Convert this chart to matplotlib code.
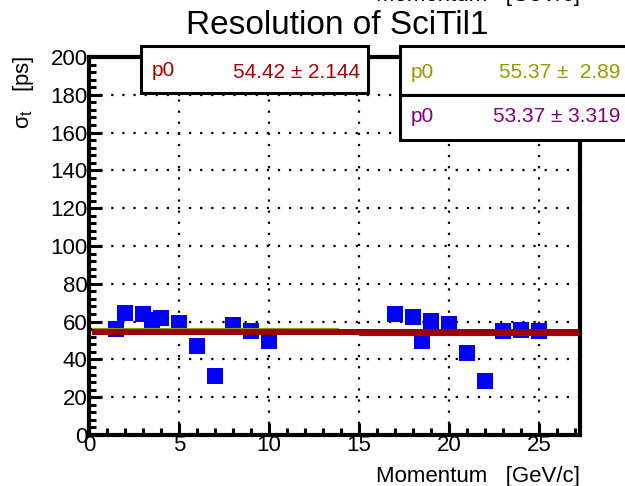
import matplotlib
matplotlib.use('Agg')
import matplotlib.pyplot as plt
from matplotlib.patches import Rectangle
from matplotlib.ticker import MultipleLocator

plt.rcParams['font.family'] = ['Liberation Sans', 'DejaVu Sans']
plt.rcParams['mathtext.fontset'] = 'custom'
plt.rcParams['mathtext.rm'] = 'Liberation Sans'
plt.rcParams['mathtext.it'] = 'Liberation Sans'

# measured time resolution per momentum bin
momentum = [1.5, 2, 3, 3.5, 4, 5, 6, 7, 8, 9, 10,
            17, 18, 18.5, 19, 20, 21, 22, 23, 24, 25]
sigma_t = [55.9, 64.4, 64.0, 61.0, 62.0, 59.4, 47.3, 31.2, 58.2, 55.2, 49.9,
           64.0, 62.3, 49.7, 60.5, 58.6, 43.2, 28.6, 55.0, 55.5, 55.0]

# constant fits: full range, low range, high range
fit_all = 54.42
fit_all_err = 2.144
fit_low = 55.37
fit_low_err = 2.89
fit_high = 53.37
fit_high_err = 3.319
low_range = [0.15, 13.9]
high_range = [15.0, 27.2]
all_range = [0.15, 27.2]

fig = plt.figure(figsize=(6.25, 4.86), dpi=100)
W, H = 625, 486
ax = fig.add_axes([89 / W, 1 - 435 / H, (580 - 89) / W, (435 - 57) / H])
ax.set_xlim(0, 27.28)
ax.set_ylim(0, 200)

ax.plot(momentum, sigma_t, 's', color='#0000ff', ms=11.5, mew=0, zorder=3)
ax.plot(low_range, [fit_low] * 2, color='#999900', lw=3, solid_capstyle='butt', zorder=4)
ax.plot(high_range, [fit_high] * 2, color='#800080', lw=3, solid_capstyle='butt', zorder=4)
ax.plot(all_range, [fit_all] * 2, color='#990000', lw=4.3, solid_capstyle='butt', zorder=5)

ax.xaxis.set_major_locator(MultipleLocator(5))
ax.xaxis.set_minor_locator(MultipleLocator(1))
ax.yaxis.set_major_locator(MultipleLocator(20))
ax.yaxis.set_minor_locator(MultipleLocator(4))
ax.tick_params(which='both', direction='in', width=2.2, labelsize=16, pad=1,
               top=False, right=False)
ax.tick_params(which='major', length=9)
ax.tick_params(which='minor', length=5)
ax.tick_params(axis='x', pad=0)
ax.grid(True, which='major', color='black', ls=(0, (1, 4)), lw=1.6)
for s in ax.spines.values():
    s.set_linewidth(3)

fig.text(337 / W, 1 - 26 / H, 'Resolution of SciTil1', fontsize=24,
         ha='center', va='center')
fig.text(580 / W, 1 - 482 / H, 'Momentum   [GeV/c]', fontsize=16,
         ha='right', va='baseline')
fig.text(580 / W, 1 - 1.5 / H, 'Momentum   [GeV/c]', fontsize=16,
         ha='right', va='baseline')
fig.text(24 / W, 1 - 55 / H, r'$\sigma_{t}$   [ps]', fontsize=16,
         rotation=90, ha='center', va='top')

# fit parameter boxes
def box(x0, y0, x1, y1):
    r = Rectangle((x0 / W, 1 - y1 / H), (x1 - x0) / W, (y1 - y0) / H,
                  transform=fig.transFigure, facecolor='white',
                  edgecolor='black', lw=2.2, zorder=10)
    fig.add_artist(r)

box(141, 46, 368, 93)
box(400, 46, 640, 95)
box(400, 95, 640, 140)

fig.text(152 / W, 1 - 70 / H, 'p0', color='#aa0000', fontsize=15,
         va='center', zorder=11)
fig.text(360 / W, 1 - 72 / H, f'{fit_all:.2f} \u00b1 {fit_all_err:.3f}',
         color='#aa0000', fontsize=15, ha='right', va='center', zorder=11)
fig.text(411 / W, 1 - 72 / H, 'p0', color='#999900', fontsize=15,
         va='center', zorder=11)
fig.text(620 / W, 1 - 73 / H, f'{fit_low:.2f} \u00b1  {fit_low_err:.2f}',
         color='#999900', fontsize=15, ha='right', va='center', zorder=11)
fig.text(411 / W, 1 - 117 / H, 'p0', color='#800080', fontsize=15,
         va='center', zorder=11)
fig.text(620 / W, 1 - 117 / H, f'{fit_high:.2f} \u00b1 {fit_high_err:.3f}',
         color='#800080', fontsize=15, ha='right', va='center', zorder=11)

fig.savefig('out.png', dpi=100)
